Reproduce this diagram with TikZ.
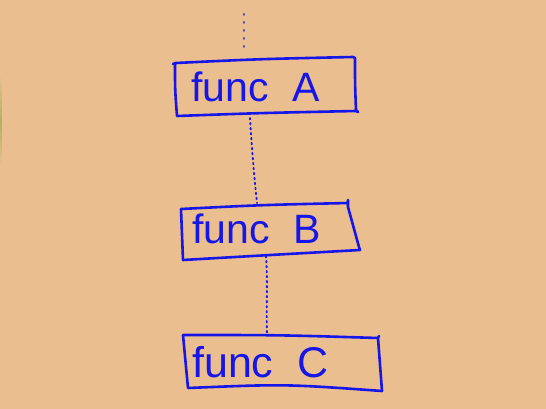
\documentclass[tikz,border=0pt]{standalone}
\usepackage{fontspec}
\setmainfont{Liberation Sans}
\definecolor{bg}{RGB}{235,190,143}
\definecolor{pen}{RGB}{22,22,232}
\definecolor{penlight}{RGB}{80,70,200}
\definecolor{streak}{RGB}{175,178,100}
\begin{document}
\begin{tikzpicture}[x=1pt,y=-1pt,
  ink/.style={draw=pen, line width=2.6pt, line join=round, line cap=round},
  functext/.style={text=pen, font=\fontsize{41}{41}\selectfont, inner sep=0pt, anchor=base west},
  dotline/.style={draw=pen, line width=1.9pt, line cap=round, dash pattern=on 1.4pt off 3.6pt},
  sparse/.style={draw=penlight, line width=2pt, line cap=round, dash pattern=on 0.8pt off 7.2pt}]
\fill[bg] (0,0) rectangle (546,409);
\useasboundingbox (0,0) rectangle (546,409);
% faint green streak on the left edge
\shade[top color=bg, bottom color=bg, middle color=streak] (0,75) rectangle (1.8,168);

% text nodes
\node[functext] (A) at (191,102) {func\hspace{24pt}A};
\node[functext] (B) at (192,243) {func\hspace{24pt}B};
\node[functext, font=\fontsize{43}{43}\selectfont] (C) at (192,377) {func\hspace{24pt}C};

% hand-drawn boxes
\draw[ink] (173,64) -- (176,63) .. controls (260,59) .. (353,57) -- (355,58)
  .. controls (355,85) .. (356,110) -- (358,112) -- (356,111)
  .. controls (260,113) .. (177,116) .. controls (175,90) .. (175,63);
\draw[ink] (181,209) .. controls (260,205) .. (348,203) -- (348,200) -- (348,207)
  -- (359,247) -- (360,250) .. controls (270,255) .. (183,260)
  .. controls (182,235) .. (181,209);
\draw[ink] (183,335) .. controls (280,335) .. (378,338) -- (379,336) -- (378,338)
  .. controls (380,365) .. (382,391) .. controls (285,384) .. (188,388)
  .. controls (185,362) .. (183,335);

% connector anchors
\coordinate (topend) at (244,14);
\coordinate (Atop) at (244,49);
\coordinate (Abot) at (250,118);
\coordinate (Btop) at (257,203);
\coordinate (Bbot) at (266,256);
\coordinate (Ctop) at (267,333);

\draw[sparse] (topend) -- (Atop);
\draw[dotline] (Abot) .. controls (252,150) and (254,175) .. (Btop);
\draw[dotline] (Bbot) .. controls (268,285) and (266,310) .. (Ctop);
\end{tikzpicture}
\end{document}
